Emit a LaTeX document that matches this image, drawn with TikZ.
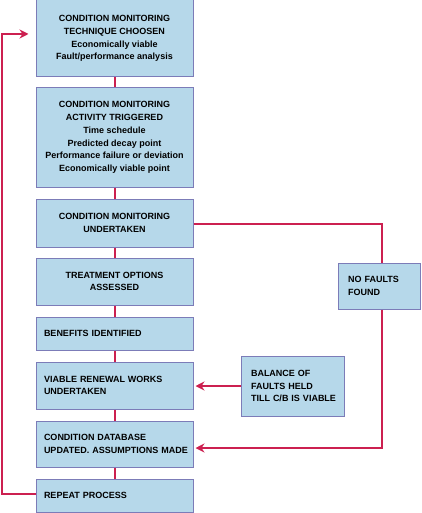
\documentclass[tikz,border=0pt]{standalone}
\usepackage{fontspec}
\setmainfont{Liberation Sans}
\usetikzlibrary{arrows.meta}
\definecolor{boxfill}{HTML}{B6D8EA}
\definecolor{boxline}{HTML}{7C7CB8}
\definecolor{flowred}{HTML}{CC2050}
\hbadness=10000 \hfuzz=20pt
\begin{document}
\begin{tikzpicture}[x=1pt,y=-1pt,
  boxc/.style={draw=boxline,line width=1pt,fill=boxfill,minimum width=157pt,
    inner sep=0pt,align=center,font=\bfseries\fontsize{9}{12.7}\selectfont},
  boxl/.style={draw=boxline,line width=1pt,fill=boxfill,minimum width=157pt,
    inner xsep=8pt,inner ysep=0pt,text width=141pt,align=left,font=\bfseries\fontsize{9}{12.7}\selectfont},
  sidebox/.style={draw=boxline,line width=1pt,fill=boxfill,inner xsep=10pt,inner ysep=0pt,
    align=left,font=\bfseries\fontsize{9}{12.7}\selectfont},
  flow/.style={draw=flowred,line width=2pt},
  flowarr/.style={flow,-{Stealth[length=9pt,width=9pt]}}]
\useasboundingbox (0,0) rectangle (421,513);
\node[boxc,minimum height=77pt] (b1) at (114.5,38.5) {CONDITION MONITORING\\TECHNIQUE CHOOSEN\\Economically viable\\Fault/performance analysis};
\node[boxc,minimum height=99pt] (b2) at (114.5,137.5) {CONDITION MONITORING\\ACTIVITY TRIGGERED\\Time schedule\\Predicted decay point\\Performance failure or deviation\\Economically viable point};
\node[boxc,minimum height=48pt] (b3) at (114.5,223) {CONDITION MONITORING\\UNDERTAKEN};
\node[boxc,minimum height=47pt] (b4) at (114.5,281.5) {TREATMENT OPTIONS\\ASSESSED};
\node[boxl,minimum height=33pt] (b5) at (114.5,333.5) {\mbox{BENEFITS IDENTIFIED}};
\node[boxl,minimum height=47pt] (b6) at (114.5,385.5) {\mbox{VIABLE RENEWAL WORKS}\\\mbox{UNDERTAKEN}};
\node[boxl,minimum height=46pt] (b7) at (114.5,444) {\mbox{CONDITION DATABASE}\\\mbox{UPDATED. ASSUMPTIONS MADE}};
\node[boxl,minimum height=33pt] (b8) at (114.5,495.5) {\mbox{REPEAT PROCESS}};
\node[sidebox,minimum width=82pt,minimum height=46pt,text width=62pt] (nf) at (379,286) {\mbox{NO FAULTS}\\\mbox{FOUND}};
\node[sidebox,minimum width=103pt,minimum height=60pt,text width=83pt] (bal) at (292.5,386) {\mbox{BALANCE OF}\\\mbox{FAULTS HELD}\\\mbox{TILL C/B IS VIABLE}};
\coordinate (r1) at (382,224);
\coordinate (r2) at (382,448);
\coordinate (l1) at (2,494);
\coordinate (l2) at (2,34);
\draw[flow] (b1.south) -- (b2.north);
\draw[flow] (b2.south) -- (b3.north);
\draw[flow] (b3.south) -- (b4.north);
\draw[flow] (b4.south) -- (b5.north);
\draw[flow] (b5.south) -- (b6.north);
\draw[flow] (b6.south) -- (b7.north);
\draw[flow] (b7.south) -- (b8.north);
\draw[flow] (b3.east |- r1) -- (r1) -- (nf.north -| r1);
\draw[flowarr,shorten >=2pt] (nf.south -| r2) -- (r2) -- (b7.east |- r2);
\draw[flowarr,shorten >=2pt] (bal.west) -- (b6.east |- bal.west);
\draw[flowarr,shorten >=7pt] (b8.west |- l1) -- (l1) -- (l2) -- (b1.west |- l2);
\end{tikzpicture}
\end{document}
